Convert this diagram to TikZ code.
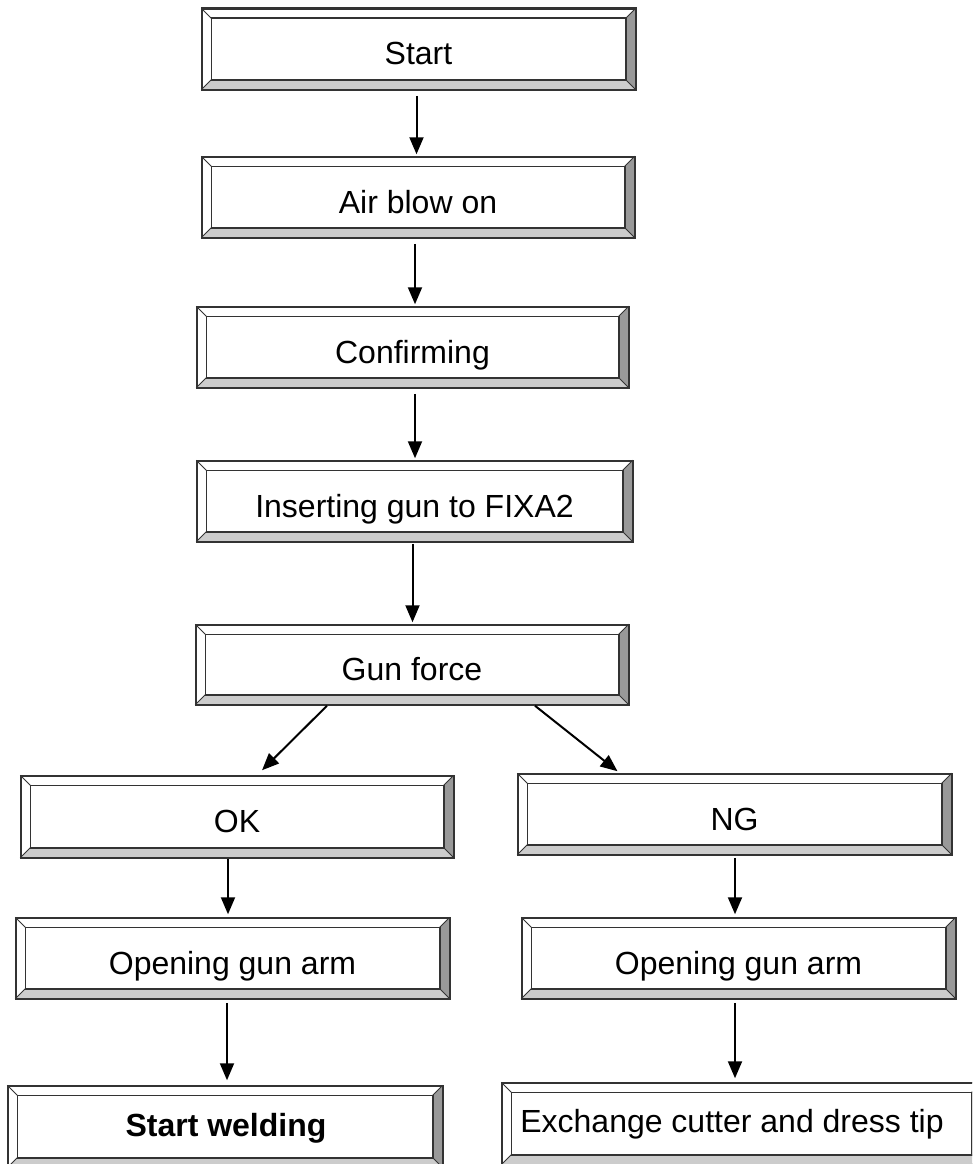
\documentclass[tikz,border=0pt]{standalone}
\usepackage{fontspec}
\setmainfont{Liberation Sans}
\usetikzlibrary{arrows.meta}
\tikzset{
  txt/.style={font=\fontsize{32}{38}\selectfont, text height=32pt, text depth=0pt},
  boxnode/.style={draw=black!80, line width=1.5pt, fill=white, inner sep=0pt, txt},
  bline/.style={draw=black!80, line width=1.5pt},
  arr/.style={draw=black, line width=2pt, -{Triangle[length=17pt,width=14pt]}},
}
% name, x1, y1, x2, y2, text
\newcommand\bnode[6]{%
  \node[boxnode, minimum width={(#4-#2)*1pt}, minimum height={(#5-#3)*1pt}]
    (#1) at ({(#2+#4)/2},{(#3+#5)/2}) {#6};
  \fill[black!40] (#1.north east) -- (#1.south east) -- ([shift={(-10,-10)}]#1.south east) -- ([shift={(-10,10)}]#1.north east) -- cycle;
  \fill[black!20] (#1.south west) -- (#1.south east) -- ([shift={(-10,-10)}]#1.south east) -- ([shift={(10,-10)}]#1.south west) -- cycle;
  \draw[bline] (#1.north west) rectangle (#1.south east);
  \draw[bline] ([shift={(10,10)}]#1.north west) rectangle ([shift={(-10,-10)}]#1.south east);
  \draw[bline, line width=0.9pt] (#1.north west) -- ([shift={(10,10)}]#1.north west)
    (#1.north east) -- ([shift={(-10,10)}]#1.north east)
    (#1.south west) -- ([shift={(10,-10)}]#1.south west)
    (#1.south east) -- ([shift={(-10,-10)}]#1.south east);
}
\begin{document}
\begin{tikzpicture}[x=1pt,y=-1pt]
\useasboundingbox (0,0) rectangle (972,1164);
\clip (0,0) rectangle (972,1164);
\bnode{start}{202}{9}{635}{89}{Start}
\bnode{air}{202}{157}{634}{237}{Air blow on}
\bnode{conf}{197}{307}{628}{387}{Confirming}
\bnode{ins}{197}{461}{632}{541}{Inserting gun to FIXA2}
\bnode{gun}{196}{625}{628}{704}{Gun force}
\bnode{ok}{21}{776}{453}{857}{OK}
\bnode{ng}{518}{774}{951}{854}{NG}
\bnode{openl}{16}{918}{449}{998}{Opening gun arm}
\bnode{openr}{522}{918}{955}{998}{Opening gun arm}
\bnode{weld}{8}{1086}{442}{1167}{}
\node[txt, inner sep=0pt, font=\fontsize{32}{38}\selectfont\bfseries] (weldtxt) at (226,1120) {Start welding};
\bnode{exch}{502}{1083}{981}{1164}{}
\node[txt, inner sep=0pt] (exchtxt) at (732,1116.5) {Exchange cutter and dress tip};
% connectors
\draw[arr] ([xshift=-2pt,yshift=-6pt]start.south) -- ([xshift=-2pt,yshift=2pt]start.south |- air.north);
\draw[arr] ([xshift=-3pt,yshift=-6pt]air.south) -- ([xshift=-3pt,yshift=2pt]air.south |- conf.north);
\draw[arr] ([xshift=2.5pt,yshift=-6pt]conf.south) -- ([xshift=2.5pt,yshift=2pt]conf.south |- ins.north);
\draw[arr] ([xshift=-2pt,yshift=-2pt]ins.south) -- ([xshift=-2pt,yshift=2pt]ins.south |- gun.north);
\draw[arr] ([xshift=-85pt,yshift=-1pt]gun.south) -- ([xshift=25pt,yshift=5pt]ok.north);
\draw[arr] ([xshift=123pt,yshift=-1pt]gun.south) -- ([xshift=-117pt,yshift=2pt]ng.north);
\draw[arr] ([xshift=-9pt,yshift=-1pt]ok.south) -- ([xshift=-9pt,yshift=3pt]ok.south |- openl.north);
\draw[arr] ([xshift=0.5pt,yshift=-3pt]ng.south) -- ([xshift=0.5pt,yshift=3pt]ng.south |- openr.north);
\draw[arr] ([xshift=-5.5pt,yshift=-4pt]openl.south) -- ([xshift=-5.5pt,yshift=5pt]openl.south |- weld.north);
\draw[arr] ([xshift=-3.5pt,yshift=-4pt]openr.south) -- ([xshift=-3.5pt,yshift=4pt]openr.south |- exch.north);
\end{tikzpicture}
\end{document}
